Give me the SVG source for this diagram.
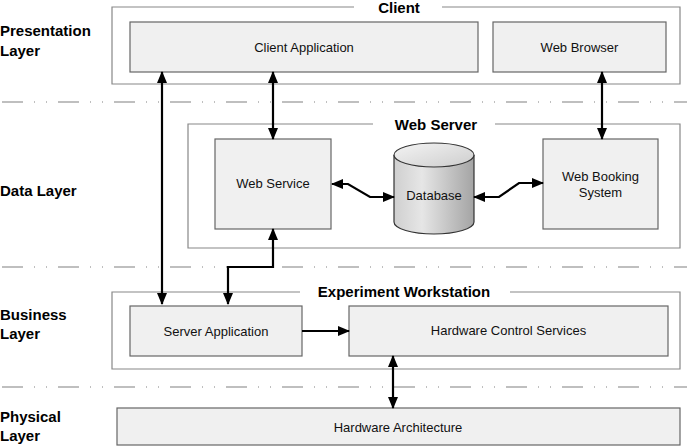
<svg xmlns="http://www.w3.org/2000/svg" width="687" height="446" viewBox="0 0 687 446">
<style>
.bg{fill:#fff}
.sep{fill:none;stroke:#aaa;stroke-width:1.5;stroke-dasharray:21 11 1 11 1 11;stroke-dashoffset:54}
.outer{fill:none;stroke:#888;stroke-width:1.2}
.box{fill:#f0f0f0;stroke:#666;stroke-width:1.2}
.lbl{font-family:"Liberation Sans",Arial,sans-serif;font-size:13px;fill:#111;text-anchor:middle}
.layer{font-family:"Liberation Sans",Arial,sans-serif;font-size:15px;font-weight:bold;fill:#000}
.title{font-family:"Liberation Sans",Arial,sans-serif;font-size:15px;font-weight:bold;fill:#000;text-anchor:middle}
.conn{fill:none;stroke:#000;stroke-width:2.2}
</style>
<defs>
<marker id="ah" markerWidth="12" markerHeight="10" refX="11" refY="5" orient="auto-start-reverse" markerUnits="userSpaceOnUse">
<path d="M0,0 L12,5 L0,10 Z" fill="#000"/>
</marker>
<linearGradient id="cylBody" x1="0" y1="0" x2="1" y2="0">
<stop offset="0" stop-color="#cfcfcf"/>
<stop offset="0.35" stop-color="#e6e6e6"/>
<stop offset="1" stop-color="#a4a4a4"/>
</linearGradient>
<linearGradient id="cylTop" x1="0" y1="0" x2="1" y2="1">
<stop offset="0" stop-color="#f4f4f4"/>
<stop offset="1" stop-color="#cdcdcd"/>
</linearGradient>
</defs>
<rect class="bg" x="0" y="0" width="687" height="446"/>

<g id="separators">
<line class="sep" x1="0" y1="102" x2="687" y2="102"/>
<line class="sep" x1="0" y1="267" x2="687" y2="267"/>
<line class="sep" x1="0" y1="387" x2="687" y2="387"/>
</g>

<g id="layer-labels">
<text class="layer" x="0" y="36">Presentation</text>
<text class="layer" x="0" y="56">Layer</text>
<text class="layer" x="0" y="196">Data Layer</text>
<text class="layer" x="0" y="320">Business</text>
<text class="layer" x="0" y="339">Layer</text>
<text class="layer" x="0" y="422">Physical</text>
<text class="layer" x="0" y="441">Layer</text>
</g>

<g id="client">
<path class="outer" d="M354,7 H112 V84 H680 V7 H442"/>
<text class="title" x="399" y="13">Client</text>
</g>
<g id="client-application">
<rect class="box" x="130" y="22" width="348" height="50"/>
<text class="lbl" x="304" y="51.5">Client Application</text>
</g>
<g id="web-browser">
<rect class="box" x="493" y="22" width="173" height="50"/>
<text class="lbl" x="579.5" y="51.5">Web Browser</text>
</g>

<g id="web-server">
<path class="outer" d="M373,124 H188 V248 H680 V124 H495"/>
<text class="title" x="436" y="130">Web Server</text>
</g>
<g id="web-service">
<rect class="box" x="215" y="139" width="116" height="90"/>
<text class="lbl" x="273" y="188">Web Service</text>
</g>
<g id="database">
<path d="M394,155 V222 A40,12 0 0 0 474,222 V155" fill="url(#cylBody)" stroke="#333" stroke-width="1.2"/>
<ellipse cx="434" cy="155" rx="40" ry="12" fill="url(#cylTop)" stroke="#333" stroke-width="1.2"/>
<text class="lbl" x="434" y="200">Database</text>
</g>
<g id="web-booking-system">
<rect class="box" x="543" y="139" width="115" height="90"/>
<text class="lbl" x="600.5" y="181">Web Booking</text>
<text class="lbl" x="600.5" y="197">System</text>
</g>

<g id="experiment-workstation">
<path class="outer" d="M300,292 H112 V369 H680 V292 H510"/>
<text class="title" x="404" y="297">Experiment Workstation</text>
</g>
<g id="server-application">
<rect class="box" x="130" y="306" width="172" height="50"/>
<text class="lbl" x="216" y="335.5">Server Application</text>
</g>
<g id="hardware-control-services">
<rect class="box" x="349" y="306" width="319" height="50"/>
<text class="lbl" x="508.5" y="335">Hardware Control Services</text>
</g>

<g id="hardware-architecture">
<rect class="box" x="117" y="408" width="563" height="37"/>
<text class="lbl" x="398" y="431.5">Hardware Architecture</text>
</g>

<g id="connectors">
<line class="conn" x1="162" y1="72" x2="162" y2="304" marker-start="url(#ah)" marker-end="url(#ah)"/>
<line class="conn" x1="273" y1="72" x2="273" y2="139" marker-start="url(#ah)" marker-end="url(#ah)"/>
<line class="conn" x1="602" y1="72" x2="602" y2="139" marker-start="url(#ah)" marker-end="url(#ah)"/>
<polyline class="conn" points="332,184 348,184 370,197 394,197" marker-start="url(#ah)" marker-end="url(#ah)"/>
<polyline class="conn" points="474,197 499,197 519,183 543,183" marker-start="url(#ah)" marker-end="url(#ah)"/>
<polyline class="conn" points="273,229 273,267 228,267 228,304" marker-start="url(#ah)" marker-end="url(#ah)"/>
<line class="conn" x1="302" y1="331" x2="349" y2="331" marker-end="url(#ah)"/>
<line class="conn" x1="393" y1="356" x2="393" y2="408" marker-start="url(#ah)" marker-end="url(#ah)"/>
</g>
</svg>
